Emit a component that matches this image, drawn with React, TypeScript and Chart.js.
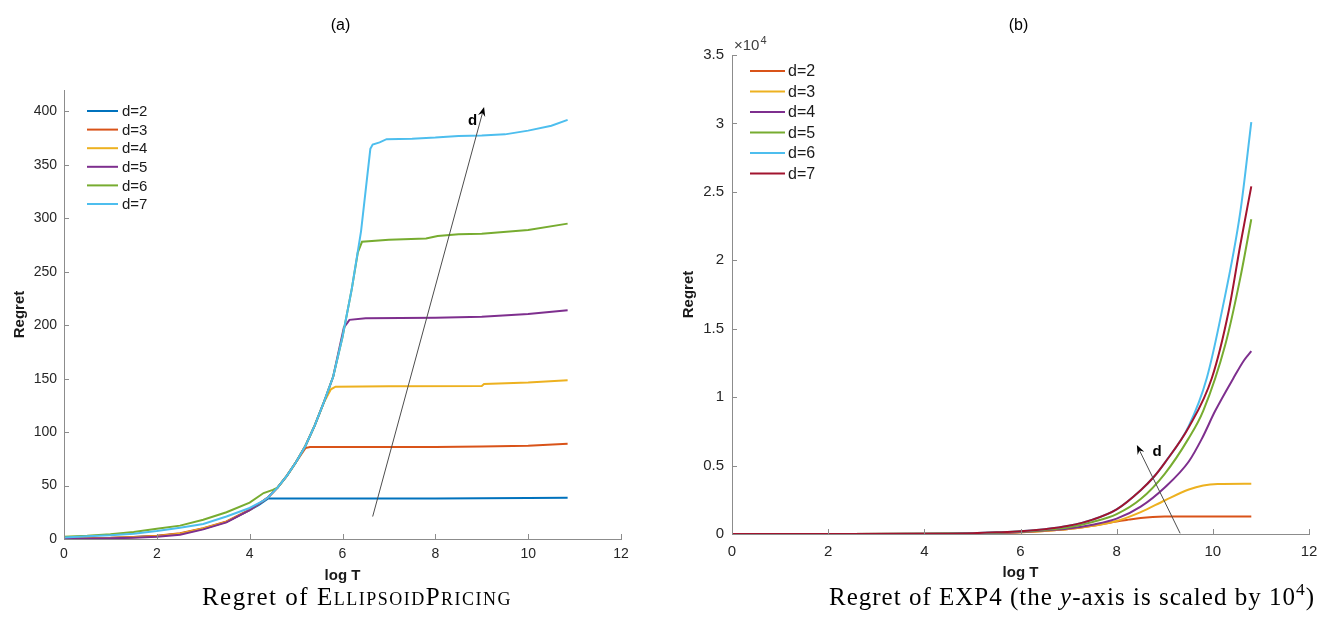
import React, { useEffect, useRef } from 'react';
import { Chart, registerables } from 'chart.js';

Chart.register(...registerables);

const SANS = '"Liberation Sans", Arial, Helvetica, sans-serif';
const SERIF = '"Liberation Serif", "Times New Roman", serif';
const AXIS = '#8c8c8c';
const TEXT = '#262626';

// ---------- shared ----------
const legendLabels = ['d=2', 'd=3', 'd=4', 'd=5', 'd=6', 'd=7'];
const xTicks = [0, 2, 4, 6, 8, 10, 12];

// ---------- panel (a): ELLIPSOIDPRICING ----------
const yTicksA = [0, 50, 100, 150, 200, 250, 300, 350, 400];
const colorsA = ['#0072BD', '#D95319', '#EDB120', '#7E2F8E', '#77AC30', '#4DBEEE'];

const ellLogT_d2 = [0, 0.5, 1, 1.5, 2, 2.5, 3, 3.5, 4, 4.2, 4.4, 6, 8, 10, 10.85];
const ellRegret_d2 = [0.5, 0.7, 1, 1.8, 2.8, 5, 9.5, 16, 27, 32, 38, 38, 38, 38.3, 38.6];

const ellLogT_d3 = [0, 0.5, 1, 1.5, 2, 2.5, 3, 3.5, 4, 4.2, 4.4, 4.6, 4.8, 5, 5.2, 5.3, 6, 8, 9, 10, 10.85];
const ellRegret_d3 = [0.6, 0.8, 1.1, 1.9, 3, 5.3, 10, 16.5, 27.5, 33, 39, 48, 59, 72, 85, 86, 86, 86, 86.5, 87.3, 89];

const ellLogT_d4 = [0, 0.5, 1, 1.5, 2, 2.5, 3, 3.5, 4, 4.2, 4.4, 4.6, 4.8, 5, 5.2, 5.4, 5.6, 5.75, 5.85, 7, 9, 9.05, 10, 10.85];
const ellRegret_d4 = [0.5, 0.7, 1, 1.7, 2.6, 5, 9.8, 16, 27, 33, 39, 48, 59, 72, 87, 106, 128, 140, 142.5, 143, 143.2, 145, 146.3, 148.5];

const ellLogT_d5 = [0, 0.5, 1, 1.5, 2, 2.5, 3, 3.5, 4, 4.2, 4.4, 4.6, 4.8, 5, 5.2, 5.4, 5.6, 5.8, 6.03, 6.1, 6.15, 6.5, 8, 9, 10, 10.85];
const ellRegret_d5 = [0.3, 0.4, 0.6, 1.2, 2, 4, 9, 15.5, 27, 33, 39, 48, 59, 72, 87, 106, 128, 152, 198, 202, 205, 206.5, 207, 208, 210.5, 214];

const ellLogT_d6 = [0, 0.5, 1, 1.5, 2, 2.5, 3, 3.5, 4, 4.3, 4.5, 4.6, 4.8, 5, 5.2, 5.4, 5.6, 5.8, 6, 6.2, 6.33, 6.42, 7, 7.8, 8.05, 8.5, 9, 10, 10.85];
const ellRegret_d6 = [2, 3, 4.5, 6.5, 9.5, 12.5, 18, 25, 34, 43, 46, 48, 59, 72, 87, 106, 128, 152, 189, 234, 268, 278, 280, 281, 283.5, 285, 285.5, 289, 295];

const ellLogT_d7 = [0, 0.5, 1, 1.5, 2, 2.5, 3, 3.5, 4, 4.3, 4.4, 4.6, 4.8, 5, 5.2, 5.4, 5.6, 5.8, 6, 6.2, 6.4, 6.6, 6.65, 6.8, 6.95, 7.5, 8, 8.5, 9, 9.5, 10, 10.5, 10.85];
const ellRegret_d7 = [1.5, 2.5, 3.5, 5, 7.5, 10.5, 14, 21, 29, 36, 39, 48, 59, 72, 87, 106, 128, 152, 189, 234, 288, 365, 369, 371, 374, 374.5, 375.5, 377, 377.5, 378.5, 382, 386.5, 392];

const arrowA_from = [6.65, 21];
const arrowA_to = [9.05, 404];
const arrowA_label = [8.8, 391];

// ---------- panel (b): EXP4 (values in units of 10^4) ----------
const yTicksB = [0, 0.5, 1, 1.5, 2, 2.5, 3, 3.5];
const colorsB = ['#D95319', '#EDB120', '#7E2F8E', '#77AC30', '#4DBEEE', '#A2142F'];

const expLogT_d2 = [0, 2, 4, 5, 5.5, 6, 6.5, 7, 7.5, 8, 8.25, 8.5, 8.75, 9, 9.5, 10, 10.8];
const expRegret_d2 = [0, 0, 0.001, 0.004, 0.007, 0.012, 0.022, 0.036, 0.06, 0.092, 0.105, 0.117, 0.124, 0.127, 0.128, 0.128, 0.128];

const expLogT_d3 = [0, 2, 4, 5, 5.5, 6, 6.5, 7, 7.5, 8, 8.5, 9, 9.5, 9.8, 10.1, 10.8];
const expRegret_d3 = [0, 0, 0.001, 0.004, 0.007, 0.012, 0.022, 0.036, 0.06, 0.095, 0.16, 0.245, 0.325, 0.355, 0.366, 0.368];

const expLogT_d4 = [0, 2, 4, 5, 5.5, 6, 6.5, 7, 7.5, 8, 8.5, 9, 9.5, 9.77, 10.05, 10.43, 10.65, 10.8];
const expRegret_d4 = [0, 0, 0.001, 0.005, 0.009, 0.015, 0.025, 0.04, 0.068, 0.112, 0.2, 0.34, 0.53, 0.695, 0.9, 1.14, 1.27, 1.336];

const expLogT_d5 = [0, 2, 4, 5, 5.5, 6, 6.5, 7, 7.5, 8, 8.5, 9, 9.49, 9.8, 10.26, 10.57, 10.8];
const expRegret_d5 = [0, 0, 0.001, 0.005, 0.01, 0.018, 0.03, 0.05, 0.088, 0.145, 0.255, 0.44, 0.695, 0.9, 1.385, 1.87, 2.3];

const expLogT_d6 = [0, 2, 4, 5, 5.5, 6, 6.5, 7, 7.5, 8, 8.5, 8.78, 9, 9.5, 9.875, 10.19, 10.57, 10.8];
const expRegret_d6 = [0, 0, 0.001, 0.006, 0.012, 0.02, 0.035, 0.06, 0.105, 0.18, 0.32, 0.42, 0.52, 0.79, 1.14, 1.63, 2.35, 3.01];

const expLogT_d7 = [0, 2, 4, 5, 5.5, 6, 6.5, 7, 7.5, 8, 8.5, 8.78, 9, 9.5, 9.98, 10.33, 10.57, 10.8];
const expRegret_d7 = [0, 0, 0.001, 0.006, 0.012, 0.02, 0.035, 0.06, 0.105, 0.18, 0.32, 0.42, 0.52, 0.78, 1.14, 1.63, 2.11, 2.54];

const arrowB_from = [9.32, 0.005];
const arrowB_to = [8.42, 0.65];
const arrowB_label = [8.84, 0.6];

const seriesA = [
  [ellLogT_d2, ellRegret_d2],
  [ellLogT_d3, ellRegret_d3],
  [ellLogT_d4, ellRegret_d4],
  [ellLogT_d5, ellRegret_d5],
  [ellLogT_d6, ellRegret_d6],
  [ellLogT_d7, ellRegret_d7],
];
const seriesB = [
  [expLogT_d2, expRegret_d2],
  [expLogT_d3, expRegret_d3],
  [expLogT_d4, expRegret_d4],
  [expLogT_d5, expRegret_d5],
  [expLogT_d6, expRegret_d6],
  [expLogT_d7, expRegret_d7],
];

type PanelCfg = {
  series: number[][][];
  colors: string[];
  yTicks: number[];
  yMax: number;
  smooth: boolean;
  padding: { left: number; top: number; right: number; bottom: number };
  yWidth: number;
  xHeight: number;
  tickFont: number;
  xPad: number;
  yPad: number;
  legend: { x0: number; x1: number; tx: number; y0: number; dy: number; font: number };
  arrowFrom: number[];
  arrowTo: number[];
  arrowLabel: number[];
  title: string;
  yTitleOffset: number;
  xTitleOffset: number;
  exponent: boolean;
};

function makePlugin(cfg: PanelCfg) {
  return {
    id: 'matlabDecor',
    afterDatasetsDraw(chart: any) {
      const ctx: CanvasRenderingContext2D = chart.ctx;
      const xs = chart.scales.x;
      const ys = chart.scales.y;
      const a = chart.chartArea;
      ctx.save();
      // inward ticks
      ctx.strokeStyle = AXIS;
      ctx.lineWidth = 1;
      ctx.beginPath();
      xTicks.forEach((v) => {
        const px = Math.round(xs.getPixelForValue(v)) + 0.5;
        ctx.moveTo(px, a.bottom);
        ctx.lineTo(px, a.bottom - 5);
      });
      cfg.yTicks.forEach((v) => {
        const py = Math.round(ys.getPixelForValue(v)) + 0.5;
        ctx.moveTo(a.left, py);
        ctx.lineTo(a.left + 5, py);
      });
      ctx.stroke();

      // arrow
      const fx = xs.getPixelForValue(cfg.arrowFrom[0]);
      const fy = ys.getPixelForValue(cfg.arrowFrom[1]);
      const tx = xs.getPixelForValue(cfg.arrowTo[0]);
      const ty = ys.getPixelForValue(cfg.arrowTo[1]);
      const ang = Math.atan2(ty - fy, tx - fx);
      const L = 10;
      ctx.strokeStyle = '#4d4d4d';
      ctx.lineWidth = 1;
      ctx.beginPath();
      ctx.moveTo(fx, fy);
      ctx.lineTo(tx - Math.cos(ang) * 4, ty - Math.sin(ang) * 4);
      ctx.stroke();
      ctx.fillStyle = '#000';
      ctx.beginPath();
      ctx.moveTo(tx, ty);
      ctx.lineTo(tx - L * Math.cos(ang - 0.38), ty - L * Math.sin(ang - 0.38));
      ctx.lineTo(tx - L * 0.6 * Math.cos(ang), ty - L * 0.6 * Math.sin(ang));
      ctx.lineTo(tx - L * Math.cos(ang + 0.38), ty - L * Math.sin(ang + 0.38));
      ctx.closePath();
      ctx.fill();
      ctx.font = `bold 15px ${SANS}`;
      ctx.textAlign = 'center';
      ctx.textBaseline = 'middle';
      ctx.fillStyle = '#000';
      ctx.fillText('d', xs.getPixelForValue(cfg.arrowLabel[0]), ys.getPixelForValue(cfg.arrowLabel[1]));

      // legend
      const lg = cfg.legend;
      chart.data.datasets.forEach((ds: any, i: number) => {
        const y = lg.y0 + i * lg.dy;
        ctx.strokeStyle = ds.borderColor;
        ctx.lineWidth = 2;
        ctx.beginPath();
        ctx.moveTo(lg.x0, y);
        ctx.lineTo(lg.x1, y);
        ctx.stroke();
        ctx.fillStyle = '#1a1a1a';
        ctx.font = `${lg.font}px ${SANS}`;
        ctx.textAlign = 'left';
        ctx.textBaseline = 'middle';
        ctx.fillText(ds.label, lg.tx, y + 1);
      });

      // axis titles
      ctx.fillStyle = '#1a1a1a';
      ctx.font = `bold 15px ${SANS}`;
      ctx.textAlign = 'center';
      ctx.textBaseline = 'middle';
      ctx.fillText('log T', (a.left + a.right) / 2, a.bottom + cfg.xTitleOffset);
      ctx.save();
      ctx.translate(a.left - cfg.yTitleOffset, (a.top + a.bottom) / 2);
      ctx.rotate(-Math.PI / 2);
      ctx.fillText('Regret', 0, 0);
      ctx.restore();

      // panel title
      ctx.font = `16px ${SANS}`;
      ctx.fillStyle = '#000';
      ctx.fillText(cfg.title, (a.left + a.right) / 2 - 2, 26);

      // exponent
      if (cfg.exponent) {
        ctx.textAlign = 'left';
        ctx.textBaseline = 'alphabetic';
        ctx.fillStyle = '#404040';
        ctx.font = `15px ${SANS}`;
        const base = '\u00d710';
        ctx.fillText(base, a.left + 2, a.top - 5);
        const w = ctx.measureText(base).width;
        ctx.font = `11px ${SANS}`;
        ctx.fillText('4', a.left + 2 + w + 1, a.top - 11);
      }
      ctx.restore();
    },
  };
}

function buildConfig(cfg: PanelCfg): any {
  const n = cfg.series.length;
  return {
    type: 'line',
    data: {
      datasets: cfg.series.map((s, i) => ({
        label: legendLabels[i],
        data: s[0].map((x, j) => ({ x, y: s[1][j] })),
        borderColor: cfg.colors[i],
        backgroundColor: cfg.colors[i],
        borderWidth: 2,
        pointRadius: 0,
        fill: false,
        tension: cfg.smooth ? 0.4 : 0,
        cubicInterpolationMode: cfg.smooth ? 'monotone' : 'default',
        order: n - i,
      })),
    },
    options: {
      animation: false,
      responsive: false,
      maintainAspectRatio: false,
      events: [],
      layout: { padding: cfg.padding },
      plugins: {
        legend: { display: false },
        tooltip: { enabled: false },
        title: { display: false },
      },
      scales: {
        x: {
          type: 'linear',
          min: 0,
          max: 12,
          afterBuildTicks: (s: any) => {
            s.ticks = xTicks.map((v) => ({ value: v }));
          },
          afterFit: (s: any) => {
            s.height = cfg.xHeight;
          },
          grid: { display: false, drawTicks: false },
          border: { display: true, color: AXIS, width: 1 },
          ticks: {
            font: { family: SANS, size: cfg.tickFont },
            color: TEXT,
            padding: cfg.xPad,
            maxRotation: 0,
            autoSkip: false,
            callback: (v: any) => String(v),
          },
        },
        y: {
          type: 'linear',
          min: 0,
          max: cfg.yMax,
          afterBuildTicks: (s: any) => {
            s.ticks = cfg.yTicks.map((v) => ({ value: v }));
          },
          afterFit: (s: any) => {
            s.width = cfg.yWidth;
          },
          grid: { display: false, drawTicks: false },
          border: { display: true, color: AXIS, width: 1 },
          ticks: {
            font: { family: SANS, size: cfg.tickFont },
            color: TEXT,
            padding: cfg.yPad,
            autoSkip: false,
            callback: (v: any) => String(v),
          },
        },
      },
    },
    plugins: [makePlugin(cfg)],
  };
}

const panelA: PanelCfg = {
  series: seriesA,
  colors: colorsA,
  yTicks: yTicksA,
  yMax: 420,
  smooth: false,
  padding: { left: 0, top: 90, right: 45, bottom: 0 },
  yWidth: 64,
  xHeight: 51,
  tickFont: 14,
  xPad: 7,
  yPad: 7,
  legend: { x0: 87, x1: 118, tx: 122, y0: 111, dy: 18.6, font: 15 },
  arrowFrom: arrowA_from,
  arrowTo: arrowA_to,
  arrowLabel: arrowA_label,
  title: '(a)',
  yTitleOffset: 44,
  xTitleOffset: 37,
  exponent: false,
};

const panelB: PanelCfg = {
  series: seriesB,
  colors: colorsB,
  yTicks: yTicksB,
  yMax: 3.5,
  smooth: true,
  padding: { left: 0, top: 55, right: 24, bottom: 0 },
  yWidth: 66,
  xHeight: 56,
  tickFont: 15,
  xPad: 9,
  yPad: 8,
  legend: { x0: 84, x1: 119, tx: 122, y0: 71, dy: 20.5, font: 16 },
  arrowFrom: arrowB_from,
  arrowTo: arrowB_to,
  arrowLabel: arrowB_label,
  title: '(b)',
  yTitleOffset: 43,
  xTitleOffset: 39,
  exponent: true,
};

export default function App() {
  const refA = useRef<HTMLCanvasElement>(null);
  const refB = useRef<HTMLCanvasElement>(null);

  useEffect(() => {
    const cA = new Chart(refA.current as HTMLCanvasElement, buildConfig(panelA));
    const cB = new Chart(refB.current as HTMLCanvasElement, buildConfig(panelB));
    return () => {
      cA.destroy();
      cB.destroy();
    };
  }, []);

  const capStyle: React.CSSProperties = {
    position: 'absolute',
    top: 582,
    textAlign: 'center',
    fontFamily: SERIF,
    fontSize: 25,
    lineHeight: '30px',
    color: '#000',
    whiteSpace: 'nowrap',
  };

  return (
    <div
      style={{
        position: 'absolute',
        left: 0,
        top: 0,
        width: 1333,
        height: 622,
        background: '#fff',
        overflow: 'hidden',
      }}
    >
      <canvas ref={refA} width={666} height={590} style={{ position: 'absolute', left: 0, top: 0 }} />
      <canvas ref={refB} width={667} height={590} style={{ position: 'absolute', left: 666, top: 0 }} />
      <div style={{ ...capStyle, left: 157, width: 400, letterSpacing: '1.5px' }}>
        Regret of <span style={{ fontVariant: 'small-caps' }}>EllipsoidPricing</span>
      </div>
      <div style={{ ...capStyle, left: 822, width: 500, letterSpacing: '1px' }}>
        Regret of EXP4 (the <i>y</i>-axis is scaled by 10
        <span style={{ fontSize: '0.7em', position: 'relative', top: '-0.55em' }}>4</span>)
      </div>
    </div>
  );
}
